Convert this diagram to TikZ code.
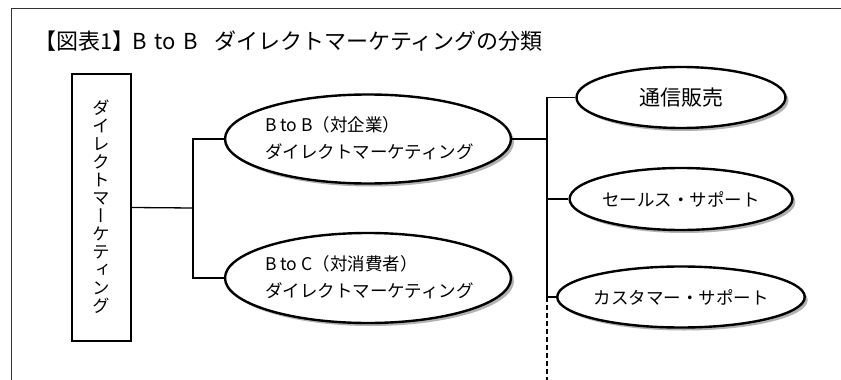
\documentclass[tikz,border=0pt]{standalone}
\usepackage{fontspec}
\setmainfont{Noto Sans CJK JP}
\newfontfamily\vjp[RawFeature=+vert]{Noto Sans CJK JP}
\usetikzlibrary{shapes.geometric,shadows}
\tikzset{
  frameline/.style={draw=black!80, line width=0.9pt},
  link/.style={draw=black, line width=1.3pt},
  dotlink/.style={draw=black, line width=1.1pt, dash pattern=on 5pt off 3pt},
  oval/.style={ellipse, draw=black, line width=2.4pt, fill=white, inner sep=0pt,
    drop shadow={shadow xshift=3pt, shadow yshift=-3pt, fill=black!30, opacity=1}},
  vbox/.style={draw=black, line width=2.4pt, fill=white, inner sep=0pt},
}
\begin{document}
\begin{tikzpicture}[x=1pt,y=-1pt]
\useasboundingbox (0,0) rectangle (841,380);
\fill[white] (0,0) rectangle (841,380);
% frame
\draw[frameline] (11,380) -- (11,8.5) -- (841,8.5);
% title
\node[anchor=west, inner sep=0pt, font=\fontsize{22}{26}\selectfont] (title) at (34,41) {【図表1】\hspace{-2pt}B\hspace{8pt}to\hspace{7pt}B\hspace{17pt}ダイレクトマーケティングの分類};
% vertical box
\node[vbox, minimum width=59pt, minimum height=267pt] (dm) at (101.5,207.5) {};
\node[inner sep=0pt, align=center, font=\vjp\fontsize{17.5}{18}\selectfont] (dmtext) at (101,207) {ダ\\イ\\レ\\ク\\ト\\マ\\ー\\ケ\\テ\\ィ\\ン\\グ};
% mid ellipses
\node[oval, minimum width=286pt, minimum height=89pt] (bb) at (368,139) {};
\node[inner sep=0pt, align=left, anchor=west, font=\fontsize{17.5}{27}\selectfont] (bbt) at (265,138) {B to B（対企業）\\ダイレクトマーケティング};
\node[oval, minimum width=286pt, minimum height=90pt] (bc) at (368,278) {};
\node[inner sep=0pt, align=left, anchor=west, font=\fontsize{17.5}{27}\selectfont] (bct) at (265,277) {B to C（対消費者）\\ダイレクトマーケティング};
% right ellipses
\node[oval, minimum width=209pt, minimum height=61pt, font=\fontsize{21}{24}\selectfont] (ts) at (681,97.5) {通信販売};
\node[oval, minimum width=209pt, minimum height=62pt, font=\fontsize{17.5}{20}\selectfont] (ss) at (681,199) {セールス・サポート};
\node[oval, minimum width=209pt, minimum height=61pt, font=\fontsize{17.5}{20}\selectfont] (cs) at (681,297) {カスタマー・サポート};
% connectors
\coordinate (j1) at (193,208);
\coordinate (j2) at (547,139);
\coordinate (dend) at (547,380);
\draw[link] (dm.east) -- (j1);
\draw[link] (bb.west) -| (193,278) -- (bc.west);
\draw[link] (bb.east) -- (j2);
\draw[link] (ts.west) -| (547,297) -- (cs.west);
\draw[link] (547,199) -- (ss.west);
\draw[dotlink] (547,297) -- (dend);
\end{tikzpicture}
\end{document}
